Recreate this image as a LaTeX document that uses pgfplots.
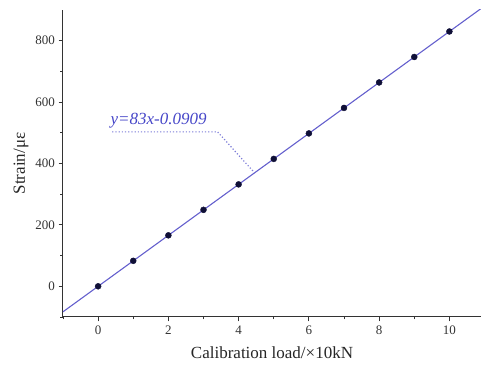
\documentclass[border=0pt]{standalone}
\usepackage{pgfplots}
\pgfplotsset{compat=1.18}
\usepackage{fontspec}
\setmainfont{Liberation Serif}
\definecolor{fitline}{RGB}{100,95,205}
\definecolor{fittext}{RGB}{70,70,200}
\definecolor{markc}{RGB}{15,15,55}
\begin{document}
\begin{tikzpicture}
\begin{axis}[
  name=ax,
  scale only axis,
  width=418pt, height=307pt,
  xmin=-1, xmax=10.9, ymin=-100, ymax=900,
  axis x line*=bottom, axis y line*=left,
  axis line style={line width=1pt, black!80},
  xtick={0,2,...,10}, ytick={0,200,...,800},
  minor xtick={-1,1,3,5,7,9}, minor ytick={-100,100,300,500,700},
  tick align=outside,
  major tick length=4.5pt, minor tick length=2.5pt,
  tick style={black!80, line width=0.8pt},
  /pgf/number format/assume math mode=true,
  ticklabel style={font=\fontsize{13}{15}\selectfont, text=black!80},
  xticklabel style={yshift=-1pt},
  xlabel={Calibration load/\texttimes10kN},
  ylabel={Strain/με},
  label style={font=\fontsize{17}{19}\selectfont, text=black!85},
  xlabel style={yshift=-5pt},
  ylabel style={yshift=0pt},
  clip=true,
]
\addplot[fitline, line width=1.1pt] coordinates {(-1,-83.09) (11,912.91)};
\addplot[only marks, mark=*, mark size=3pt, color=markc] coordinates {
 (0,0) (1,83) (2,166) (3,249) (4,332) (5,415) (6,498) (7,581) (8,664) (9,747) (10,830)};
\addplot[fittext!70, dotted, line width=1.2pt] coordinates {(0.4,503) (3.4,503) (4.45,370)};
\node[anchor=south west, inner sep=0pt, text=fittext, font=\fontsize{17}{19}\selectfont\itshape] at (axis cs:0.35,515) {y=83x-0.0909};
\end{axis}
\pgfresetboundingbox
\path ([xshift=-63pt,yshift=-48pt]ax.south west) rectangle ([yshift=10pt]ax.north east);
\end{tikzpicture}
\end{document}
